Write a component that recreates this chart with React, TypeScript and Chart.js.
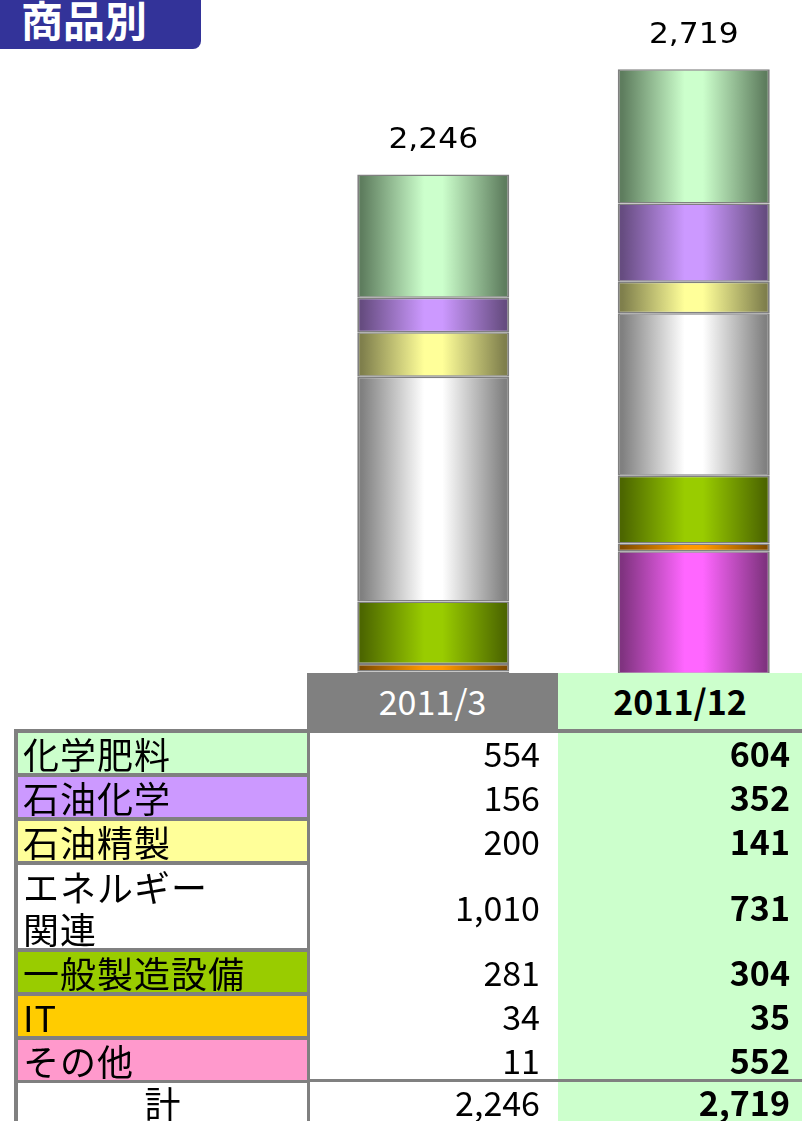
import React, { useEffect, useRef } from 'react';
import { Chart, registerables } from 'chart.js';

Chart.register(...registerables);

const TITLE = '商品別';
const CATEGORIES = ['化学肥料', '石油化学', '石油精製', 'エネルギー関連', '一般製造設備', 'IT', 'その他'];
const TABLE_LABELS = ['化学肥料', '石油化学', '石油精製', 'エネルギー\n関連', '一般製造設備', 'IT', 'その他'];
const ROW_UNITS = [1, 1, 1, 2, 1, 1, 1];
const PERIODS = ['2011/3', '2011/12'];
const VALUES_2011_3 = [554, 156, 200, 1010, 281, 34, 11];
const VALUES_2011_12 = [604, 352, 141, 731, 304, 35, 552];
const TOTAL_LABEL = '計';
const BAR_LIGHT = ['#ccffcc', '#cc99ff', '#ffff99', '#ffffff', '#99cc00', '#ff9900', '#ff66ff'];
const BAR_DARK = ['#5e7d5e', '#664c80', '#7f7f4c', '#808080', '#4c6600', '#804c00', '#803380'];
const CELL_COLORS = ['#ccffcc', '#cc99ff', '#ffff99', '#ffffff', '#99cc00', '#ffcc00', '#ff99cc'];

const SERIES = [VALUES_2011_3, VALUES_2011_12];
const TOTALS = SERIES.map((s) => s.reduce((a, b) => a + b, 0));
const fmt = (n: number) => n.toLocaleString('en-US');

const BAR_W = 152;
const GREY = '#808080';
const FONT = '"Noto Sans CJK JP", "Noto Sans", sans-serif';

const totalsPlugin = {
  id: 'totals',
  afterDatasetsDraw(chart: any) {
    const { ctx, scales } = chart;
    const x = scales.x;
    const y = scales.y;
    ctx.save();
    ctx.font = '29px "DejaVu Sans", "Liberation Sans", sans-serif';
    ctx.fillStyle = '#000';
    ctx.textAlign = 'center';
    ctx.textBaseline = 'alphabetic';
    TOTALS.forEach((t, i) => {
      const px = x.getPixelForValue(i);
      const py = y.getPixelForValue(t) - 26;
      ctx.save();
      ctx.translate(px, py);
      ctx.scale(1.08, 1);
      ctx.fillText(fmt(t), 0, 0);
      ctx.restore();
    });
    ctx.restore();
  },
};

function BarChart() {
  const ref = useRef<HTMLCanvasElement | null>(null);
  useEffect(() => {
    if (!ref.current) return;
    const order = CATEGORIES.map((_, i) => i).reverse();
    const datasets = order.map((ci) => ({
      label: CATEGORIES[ci],
      data: SERIES.map((s) => s[ci]),
      backgroundColor: (c: any) => {
        const chart = c.chart;
        const xs = chart.scales && chart.scales.x;
        if (!xs || c.type !== 'data') return BAR_LIGHT[ci];
        const cx = xs.getPixelForValue(c.dataIndex);
        if (!Number.isFinite(cx)) return BAR_LIGHT[ci];
        const g = chart.ctx.createLinearGradient(cx - BAR_W / 2, 0, cx + BAR_W / 2, 0);
        g.addColorStop(0.03, BAR_DARK[ci]);
        g.addColorStop(0.44, BAR_LIGHT[ci]);
        g.addColorStop(0.56, BAR_LIGHT[ci]);
        g.addColorStop(0.97, BAR_DARK[ci]);
        return g;
      },
      borderColor: GREY,
      borderWidth: { top: 1.5, bottom: 1.5, left: 2, right: 2 },
      borderSkipped: false as const,
      barThickness: BAR_W,
      inflateAmount: 0,
    }));
    const chart = new Chart(ref.current, {
      type: 'bar',
      data: { labels: PERIODS, datasets },
      options: {
        animation: false,
        responsive: false,
        maintainAspectRatio: false,
        layout: { padding: 0 },
        plugins: { legend: { display: false }, tooltip: { enabled: false }, title: { display: false } },
        scales: {
          x: { stacked: true, display: false },
          y: { stacked: true, display: false, min: 0, max: 3030 },
        },
      },
      plugins: [totalsPlugin],
    });
    return () => chart.destroy();
  }, []);
  return (
    <canvas
      ref={ref}
      width={521}
      height={674}
      style={{ position: 'absolute', left: 303, top: 0, width: 521, height: 674 }}
    />
  );
}

export default function App() {
  let y = 733;
  const rows = TABLE_LABELS.map((lab, i) => {
    const h = ROW_UNITS[i] === 2 ? 87 : 44;
    const top = y;
    y += h;
    return { lab, i, top, h };
  });
  const totalTop = y;

  const abs = (l: number, t: number, w: number, h: number, bg: string): React.CSSProperties => ({
    position: 'absolute', left: l, top: t, width: w, height: h, background: bg,
  });

  return (
    <div style={{ position: 'absolute', left: 0, top: 0, width: 802, height: 1121, overflow: 'hidden', background: '#fff', fontFamily: FONT }}>
      <BarChart />
      {/* title tab */}
      <div style={{ ...abs(0, 0, 201, 49, '#333399'), borderBottomRightRadius: 8 }} />
      <div style={{ position: 'absolute', left: 21, top: -4, fontSize: 42, lineHeight: '46px', fontWeight: 700, color: '#fff', whiteSpace: 'nowrap' }}>{TITLE}</div>

      {/* column backgrounds */}
      <div style={abs(558, 673, 244, 448, '#ccffcc')} />
      <div style={abs(310, 733, 248, 388, '#ffffff')} />
      <div style={abs(307, 673, 251, 60, GREY)} />
      <div style={abs(14, 729, 296, 392, GREY)} />
      <div style={abs(14, 729, 788, 4, GREY)} />
      <div style={abs(310, totalTop - 5, 492, 3, GREY)} />

      {/* header texts */}
      <div style={{ position: 'absolute', left: 307, top: 673, width: 251, height: 56, lineHeight: '56px', textAlign: 'center', fontSize: 34, color: '#fff' }}>{PERIODS[0]}</div>
      <div style={{ position: 'absolute', left: 558, top: 673, width: 244, height: 56, lineHeight: '56px', textAlign: 'center', fontSize: 34, color: '#000', fontWeight: 600 }}>{PERIODS[1]}</div>

      {rows.map(({ lab, i, top, h }) => (
        <React.Fragment key={i}>
          <div style={{ ...abs(18, top, 289, h - 4, CELL_COLORS[i]), display: 'flex', alignItems: 'center' }}>
            <div style={{ paddingLeft: 5, fontSize: 36, lineHeight: '42px', whiteSpace: 'pre-line', color: '#000', letterSpacing: 1 }}>{lab}</div>
          </div>
          <div style={{ position: 'absolute', left: 310, top, width: 230, height: h - 4, lineHeight: `${h - 4}px`, textAlign: 'right', fontSize: 34, color: '#000' }}>{fmt(VALUES_2011_3[i])}</div>
          <div style={{ position: 'absolute', left: 558, top, width: 232, height: h - 4, lineHeight: `${h - 4}px`, textAlign: 'right', fontSize: 34, fontWeight: 600, color: '#000' }}>{fmt(VALUES_2011_12[i])}</div>
        </React.Fragment>
      ))}

      {/* total row */}
      <div style={{ ...abs(18, totalTop - 1, 289, 60, '#ffffff'), textAlign: 'center', fontSize: 36, lineHeight: '38px', color: '#000' }}>{TOTAL_LABEL}</div>
      <div style={{ position: 'absolute', left: 310, top: totalTop - 1, width: 230, height: 38, lineHeight: '38px', textAlign: 'right', fontSize: 34, color: '#000' }}>{fmt(TOTALS[0])}</div>
      <div style={{ position: 'absolute', left: 558, top: totalTop - 1, width: 232, height: 38, lineHeight: '38px', textAlign: 'right', fontSize: 34, fontWeight: 600, color: '#000' }}>{fmt(TOTALS[1])}</div>
    </div>
  );
}
